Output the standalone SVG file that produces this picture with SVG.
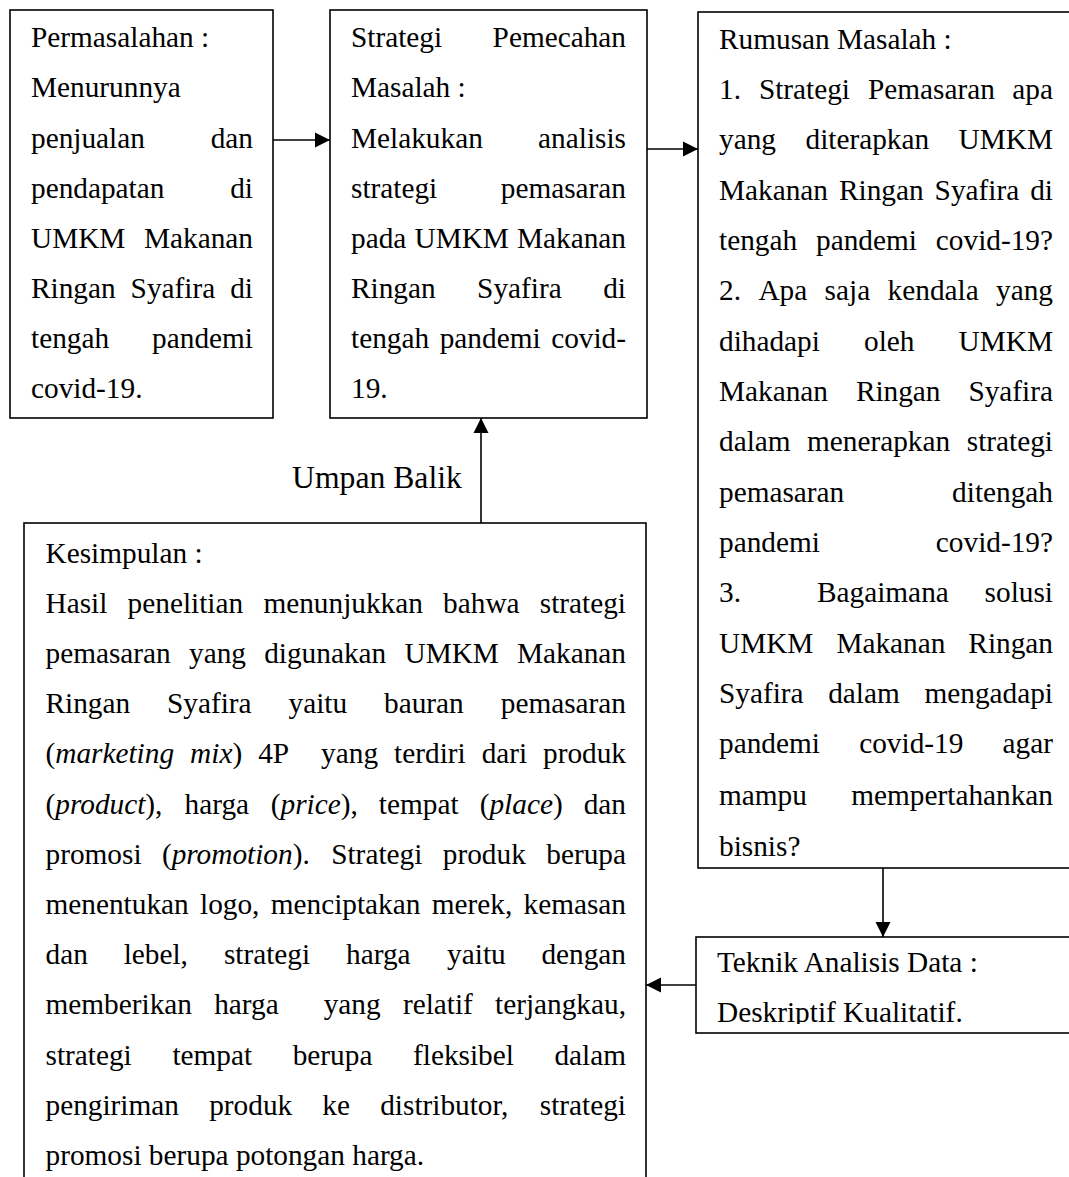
<svg xmlns="http://www.w3.org/2000/svg" width="1069" height="1177" viewBox="0 0 1069 1177">
<style>
.box{fill:#fff;stroke:#000;stroke-width:1.6}
.t{font-family:"Liberation Serif","Times New Roman",serif;font-size:29.3px;fill:#000}
.e{text-anchor:end}
.i{font-style:italic}
.c{stroke:#000;stroke-width:1.6;fill:none}
</style>
<defs>
<marker id="ah" markerUnits="userSpaceOnUse" markerWidth="16" markerHeight="16" viewBox="0 0 16 16" refX="15" refY="8" orient="auto">
<path d="M0,0.5 L15,8 L0,15.5 Z" fill="#000"/>
</marker>
<clipPath id="c3"><rect x="698" y="12" width="380" height="844"/></clipPath>
<clipPath id="c4"><rect x="696" y="937" width="380" height="87"/></clipPath>
</defs>
<rect width="1069" height="1177" fill="#fff"/>

<g id="permasalahan">
<rect class="box" x="10" y="10" width="263" height="408"/>
<text class="t" x="31" y="47.3">Permasalahan :</text>
<text class="t" x="31" y="97.4">Menurunnya</text>
<text class="t" x="31" y="147.5">penjualan</text><text class="t e" x="253" y="147.5">dan</text>
<text class="t" x="31" y="197.6">pendapatan</text><text class="t e" x="253" y="197.6">di</text>
<text class="t" x="31" y="247.7">UMKM</text><text class="t e" x="253" y="247.7">Makanan</text>
<text class="t" x="31" y="297.8">Ringan</text><text class="t" x="130.6" y="297.8">Syafira</text><text class="t e" x="253" y="297.8">di</text>
<text class="t" x="31" y="347.9">tengah</text><text class="t e" x="253" y="347.9">pandemi</text>
<text class="t" x="31" y="398">covid-19.</text>
</g>

<g id="strategi">
<rect class="box" x="330" y="10" width="317" height="408"/>
<text class="t" x="351" y="47.3">Strategi</text><text class="t e" x="626" y="47.3">Pemecahan</text>
<text class="t" x="351" y="97.4">Masalah :</text>
<text class="t" x="351" y="147.5">Melakukan</text><text class="t e" x="626" y="147.5">analisis</text>
<text class="t" x="351" y="197.6">strategi</text><text class="t e" x="626" y="197.6">pemasaran</text>
<text class="t" x="351" y="247.7">pada</text><text class="t" x="414.5" y="247.7">UMKM</text><text class="t e" x="626" y="247.7">Makanan</text>
<text class="t" x="351" y="297.8">Ringan</text><text class="t" x="477.1" y="297.8">Syafira</text><text class="t e" x="626" y="297.8">di</text>
<text class="t" x="351" y="347.9">tengah</text><text class="t" x="439.7" y="347.9">pandemi</text><text class="t e" x="626" y="347.9">covid-</text>
<text class="t" x="351" y="398">19.</text>
</g>

<g id="rumusan">
<rect class="box" x="698" y="12" width="380" height="856"/>
<g clip-path="url(#c3)">
<text class="t" x="719" y="48.5">Rumusan Masalah :</text>
<text class="t" x="719" y="98.9">1.</text><text class="t" x="758.9" y="98.9">Strategi</text><text class="t" x="868" y="98.9">Pemasaran</text><text class="t e" x="1053" y="98.9">apa</text>
<text class="t" x="719" y="149.2">yang</text><text class="t" x="805.5" y="149.2">diterapkan</text><text class="t e" x="1053" y="149.2">UMKM</text>
<text class="t" x="719" y="199.6">Makanan</text><text class="t" x="839" y="199.6">Ringan</text><text class="t" x="934.6" y="199.6">Syafira</text><text class="t e" x="1053" y="199.6">di</text>
<text class="t" x="719" y="249.9">tengah</text><text class="t" x="816" y="249.9">pandemi</text><text class="t e" x="1053" y="249.9">covid-19?</text>
<text class="t" x="719" y="300.3">2.</text><text class="t" x="758.4" y="300.3">Apa</text><text class="t" x="824.6" y="300.3">saja</text><text class="t" x="887.6" y="300.3">kendala</text><text class="t e" x="1053" y="300.3">yang</text>
<text class="t" x="719" y="350.6">dihadapi</text><text class="t" x="864" y="350.6">oleh</text><text class="t e" x="1053" y="350.6">UMKM</text>
<text class="t" x="719" y="401">Makanan</text><text class="t" x="855.9" y="401">Ringan</text><text class="t e" x="1053" y="401">Syafira</text>
<text class="t" x="719" y="451.3">dalam</text><text class="t" x="807" y="451.3">menerapkan</text><text class="t e" x="1053" y="451.3">strategi</text>
<text class="t" x="719" y="501.7">pemasaran</text><text class="t e" x="1053" y="501.7">ditengah</text>
<text class="t" x="719" y="552">pandemi</text><text class="t e" x="1053" y="552">covid-19?</text>
<text class="t" x="719" y="602.4">3.</text><text class="t" x="817" y="602.4">Bagaimana</text><text class="t e" x="1053" y="602.4">solusi</text>
<text class="t" x="719" y="652.7">UMKM</text><text class="t" x="836.4" y="652.7">Makanan</text><text class="t e" x="1053" y="652.7">Ringan</text>
<text class="t" x="719" y="703.1">Syafira</text><text class="t" x="828.2" y="703.1">dalam</text><text class="t e" x="1053" y="703.1">mengadapi</text>
<text class="t" x="719" y="753.4">pandemi</text><text class="t" x="859.2" y="753.4">covid-19</text><text class="t e" x="1053" y="753.4">agar</text>
<text class="t" x="719" y="804.5">mampu</text><text class="t e" x="1053" y="804.5">mempertahankan</text>
<text class="t" x="719" y="856">bisnis?</text>
</g>
</g>

<g id="teknik">
<rect class="box" x="696" y="937" width="380" height="96"/>
<g clip-path="url(#c4)">
<text class="t" x="717" y="972">Teknik Analisis Data :</text>
<text class="t" x="717" y="1022">Deskriptif Kualitatif.</text>
</g>
</g>

<g id="kesimpulan">
<rect class="box" x="24" y="523" width="622" height="700"/>
<text class="t" x="45.5" y="562.5">Kesimpulan :</text>
<text class="t" x="45.5" y="612.7">Hasil</text><text class="t" x="127.6" y="612.7">penelitian</text><text class="t" x="263.4" y="612.7">menunjukkan</text><text class="t" x="443.1" y="612.7">bahwa</text><text class="t e" x="626" y="612.7">strategi</text>
<text class="t" x="45.5" y="662.9">pemasaran</text><text class="t" x="189" y="662.9">yang</text><text class="t" x="264.2" y="662.9">digunakan</text><text class="t" x="404.5" y="662.9">UMKM</text><text class="t e" x="626" y="662.9">Makanan</text>
<text class="t" x="45.5" y="713.1">Ringan</text><text class="t" x="167" y="713.1">Syafira</text><text class="t" x="288.5" y="713.1">yaitu</text><text class="t" x="384" y="713.1">bauran</text><text class="t e" x="626" y="713.1">pemasaran</text>
<text class="t" x="45.5" y="763.3">(<tspan class="i">marketing</tspan></text><text class="t" x="190.1" y="763.3"><tspan class="i">mix</tspan>)</text><text class="t" x="258.2" y="763.3">4P</text><text class="t" x="321.1" y="763.3">yang</text><text class="t" x="394.1" y="763.3">terdiri</text><text class="t" x="481.7" y="763.3">dari</text><text class="t e" x="626" y="763.3">produk</text>
<text class="t" x="45.5" y="813.5">(<tspan class="i">product</tspan>),</text><text class="t" x="184.6" y="813.5">harga</text><text class="t" x="270.8" y="813.5">(<tspan class="i">price</tspan>),</text><text class="t" x="378.8" y="813.5">tempat</text><text class="t" x="479.7" y="813.5">(<tspan class="i">place</tspan>)</text><text class="t e" x="626" y="813.5">dan</text>
<text class="t" x="45.5" y="863.7">promosi</text><text class="t" x="161.9" y="863.7">(<tspan class="i">promotion</tspan>).</text><text class="t" x="331.2" y="863.7">Strategi</text><text class="t" x="442.8" y="863.7">produk</text><text class="t e" x="626" y="863.7">berupa</text>
<text class="t" x="45.5" y="913.9">menentukan</text><text class="t" x="200" y="913.9">logo,</text><text class="t" x="270.7" y="913.9">menciptakan</text><text class="t" x="431.7" y="913.9">merek,</text><text class="t e" x="626" y="913.9">kemasan</text>
<text class="t" x="45.5" y="964.1">dan</text><text class="t" x="123.7" y="964.1">lebel,</text><text class="t" x="223.9" y="964.1">strategi</text><text class="t" x="346.1" y="964.1">harga</text><text class="t" x="447.1" y="964.1">yaitu</text><text class="t e" x="626" y="964.1">dengan</text>
<text class="t" x="45.5" y="1014.3">memberikan</text><text class="t" x="214.2" y="1014.3">harga</text><text class="t" x="323.7" y="1014.3">yang</text><text class="t" x="402.9" y="1014.3">relatif</text><text class="t e" x="626" y="1014.3">terjangkau,</text>
<text class="t" x="45.5" y="1064.5">strategi</text><text class="t" x="172.4" y="1064.5">tempat</text><text class="t" x="292.7" y="1064.5">berupa</text><text class="t" x="413" y="1064.5">fleksibel</text><text class="t e" x="626" y="1064.5">dalam</text>
<text class="t" x="45.5" y="1114.7">pengiriman</text><text class="t" x="209.2" y="1114.7">produk</text><text class="t" x="322.3" y="1114.7">ke</text><text class="t" x="380.2" y="1114.7">distributor,</text><text class="t e" x="626" y="1114.7">strategi</text>
<text class="t" x="45.5" y="1164.9">promosi berupa potongan harga.</text>
</g>

<g id="connectors">
<line class="c" x1="273" y1="140" x2="330" y2="140" marker-end="url(#ah)"/>
<line class="c" x1="647" y1="149" x2="698" y2="149" marker-end="url(#ah)"/>
<line class="c" x1="481" y1="523" x2="481" y2="418" marker-end="url(#ah)"/>
<line class="c" x1="883" y1="868" x2="883" y2="937" marker-end="url(#ah)"/>
<line class="c" x1="696" y1="985" x2="646" y2="985" marker-end="url(#ah)"/>
<text class="t" x="292" y="488" style="font-size:31.7px">Umpan Balik</text>
</g>
</svg>
